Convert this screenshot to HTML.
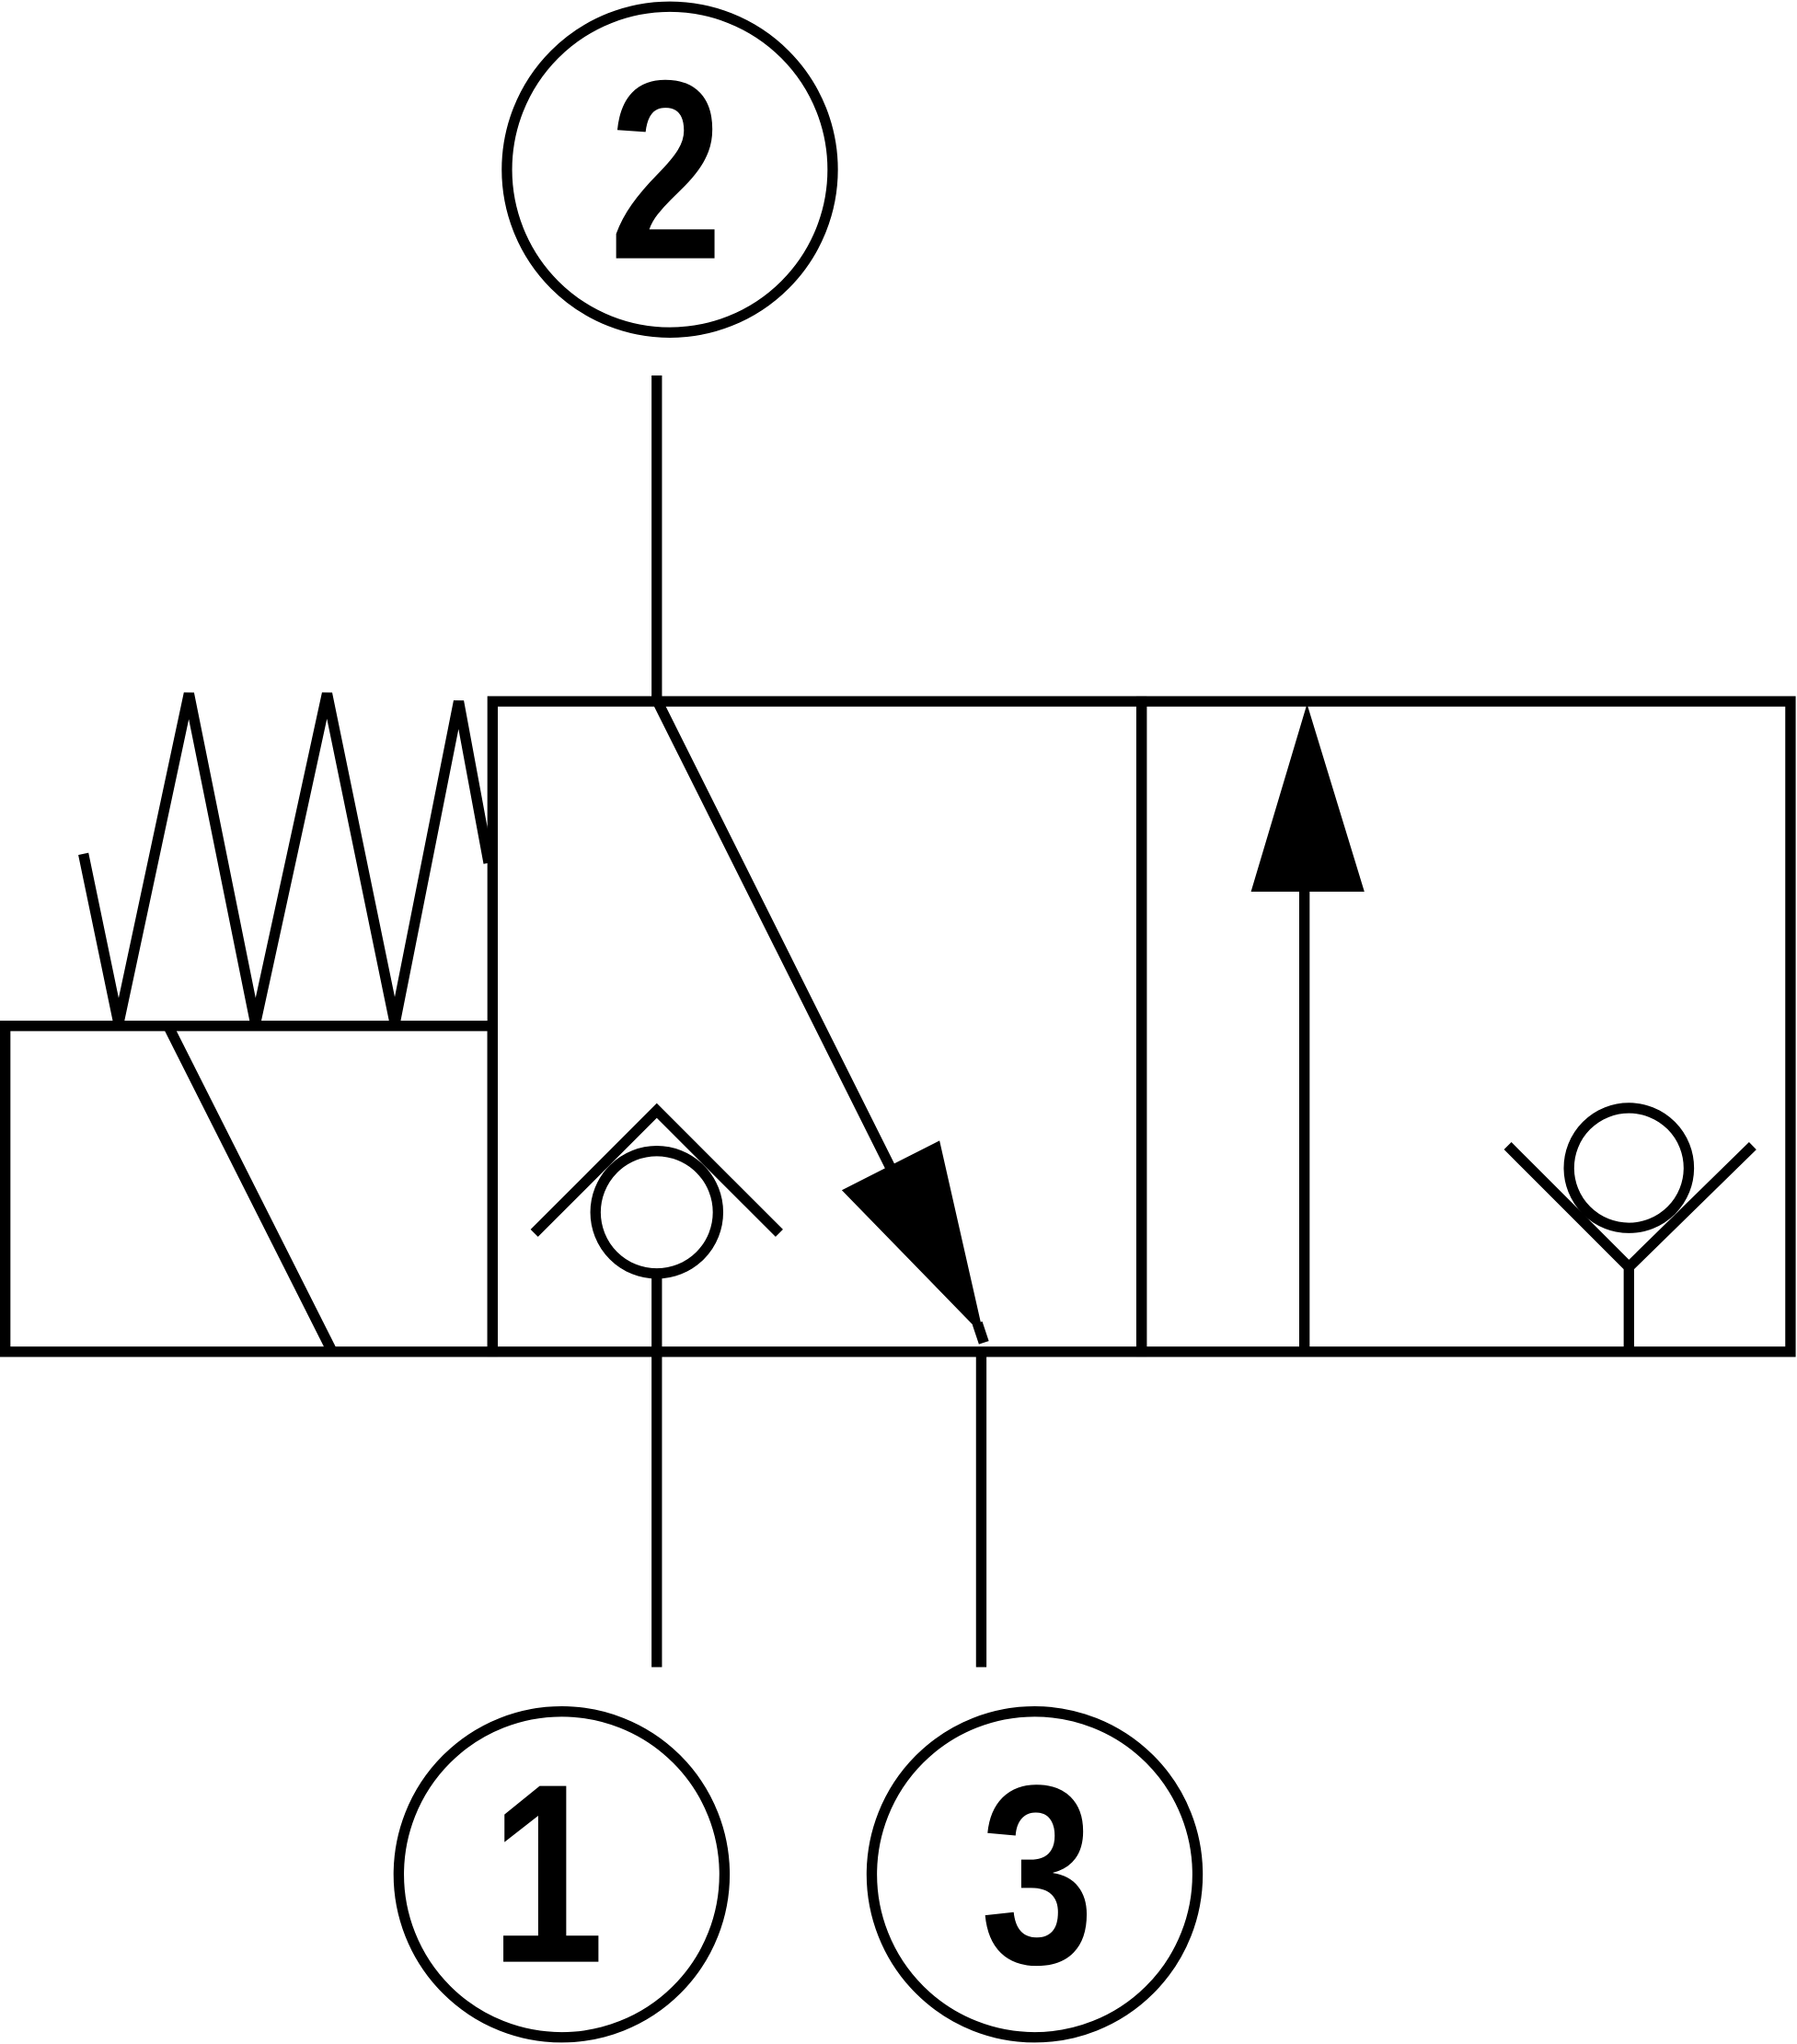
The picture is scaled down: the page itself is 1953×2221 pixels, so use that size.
<!DOCTYPE html>
<html><head><meta charset="utf-8"><style>
html,body{margin:0;padding:0;background:#fff;}
svg{display:block;}
</style></head><body>
<svg width="1953" height="2221" viewBox="0 0 1379 1568" xmlns="http://www.w3.org/2000/svg">
<g fill="none" stroke="#000" stroke-width="8">
<circle cx="514" cy="130" r="125"/>
<circle cx="431" cy="1438" r="125"/>
<circle cx="794" cy="1438" r="125"/>
<line x1="504" y1="288" x2="504" y2="537"/>
<rect x="378" y="538" width="498" height="499"/>
<rect x="876" y="538" width="498" height="499"/>
<rect x="4" y="787" width="374" height="250"/>
<polyline points="64,655 91,785 145,532 196,785 251,532 303,785 352,538 375,662"/>
<line x1="129" y1="787" x2="255" y2="1037"/>
<line x1="504" y1="537" x2="690" y2="909"/>
<line x1="750" y1="1015" x2="755" y2="1030"/>
<circle cx="504" cy="930" r="47"/>
<polyline points="410,946 504,852 598,946"/>
<line x1="504" y1="977" x2="504" y2="1279"/>
<line x1="753" y1="1037" x2="753" y2="1279"/>
<line x1="1001" y1="1037" x2="1001" y2="680"/>
<circle cx="1250" cy="896" r="46"/>
<polyline points="1157,879 1250,972 1345,879"/>
<line x1="1250" y1="972" x2="1250" y2="1037"/>
</g>
<polygon points="646,913 721,875 755,1025" fill="#000"/>
<polygon points="960,684 1047,684 1003,540" fill="#000"/>
<g font-family="Liberation Sans, Arial, sans-serif" font-weight="bold" font-size="196" text-anchor="middle" fill="#000">
<text x="511" y="198" transform="translate(511 0) scale(0.8 1) translate(-511 0)">2</text>
<text x="420" y="1505" transform="translate(420 0) scale(0.8 1) translate(-420 0)">1</text>
<text x="796" y="1506" transform="translate(796 0) scale(0.8 1) translate(-796 0)">3</text>
</g>
</svg>
</body></html>
